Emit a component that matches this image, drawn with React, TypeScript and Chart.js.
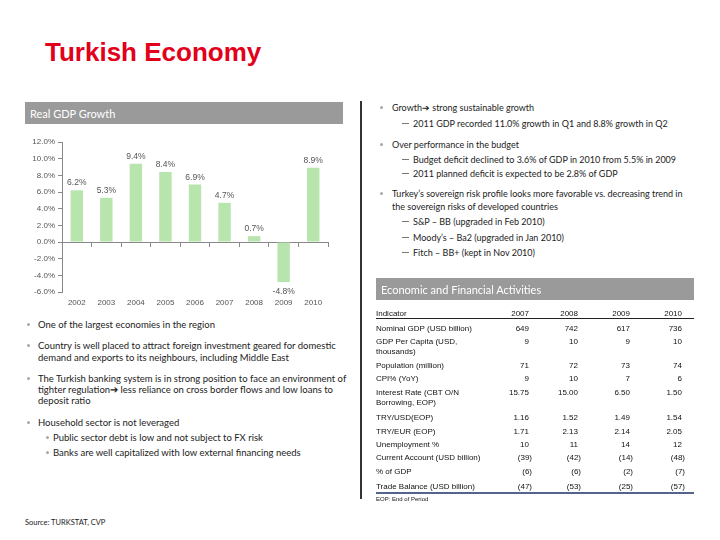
import React, { useEffect, useRef } from "react";
import { Chart, registerables } from "chart.js";
Chart.register(...registerables);

const years = ["2002", "2003", "2004", "2005", "2006", "2007", "2008", "2009", "2010"];
const growth = [6.2, 5.3, 9.4, 8.4, 6.9, 4.7, 0.7, -4.8, 8.9];
const yMin = -6;
const yMax = 12;
const yStep = 2;

const tableYears = ["2007", "2008", "2009", "2010"];
const indicators: string[][] = [
  ["Nominal GDP (USD billion)"],
  ["GDP Per Capita (USD,", "thousands)"],
  ["Population (million)"],
  ["CPI% (YoY)"],
  ["Interest Rate (CBT O/N", "Borrowing, EOP)"],
  ["TRY/USD(EOP)"],
  ["TRY/EUR (EOP)"],
  ["Unemployment %"],
  ["Current Account (USD billion)"],
  ["% of GDP"],
  ["Trade Balance (USD billion)"],
];
const v2007 = ["649", "9", "71", "9", "15.75", "1.16", "1.71", "10", "(39)", "(6)", "(47)"];
const v2008 = ["742", "10", "72", "10", "15.00", "1.52", "2.13", "11", "(42)", "(6)", "(53)"];
const v2009 = ["617", "9", "73", "7", "6.50", "1.49", "2.14", "14", "(14)", "(2)", "(25)"];
const v2010 = ["736", "10", "74", "6", "1.50", "1.54", "2.05", "12", "(48)", "(7)", "(57)"];

const FONT = "Lato, 'Open Sans', sans-serif";
const ARIAL = "'Liberation Sans', Arial, sans-serif";

type TP = {
  x: number;
  y: number;
  s?: number;
  c?: string;
  f?: string;
  w?: number;
  right?: boolean;
  children: React.ReactNode;
};
const T = ({ x, y, s = 9, c = "#222", f = FONT, w = 400, right = false, children }: TP) => {
  const lh = Math.round(s * 1.4);
  const style: React.CSSProperties = {
    position: "absolute",
    top: y - lh / 2,
    fontSize: s,
    lineHeight: `${lh}px`,
    color: c,
    fontFamily: f,
    fontWeight: w,
    whiteSpace: "nowrap",
  };
  if (right) {
    style.left = x - 200;
    style.width = 200;
    style.textAlign = "right";
  } else {
    style.left = x;
  }
  return <div style={style}>{children}</div>;
};

const Bullet = ({ x, y }: { x: number; y: number }) => (
  <div
    style={{
      position: "absolute",
      left: x - 1.5,
      top: y - 1.5,
      width: 3,
      height: 3,
      borderRadius: "50%",
      background: "#a8a8a8",
    }}
  />
);
const Dash = ({ x, y }: { x: number; y: number }) => (
  <div style={{ position: "absolute", left: x, top: y, width: 7, height: 1, background: "#777" }} />
);

function GrowthChart() {
  const ref = useRef<HTMLCanvasElement | null>(null);
  useEffect(() => {
    if (!ref.current) return;
    const labelPlugin = {
      id: "barLabels",
      afterDatasetsDraw(chart: any) {
        const ctx = chart.ctx;
        const meta = chart.getDatasetMeta(0);
        ctx.save();
        ctx.font = `8.5px ${ARIAL}`;
        ctx.fillStyle = "#555";
        ctx.textAlign = "center";
        meta.data.forEach((bar: any, i: number) => {
          const v = growth[i];
          const txt = v.toFixed(1) + "%";
          if (v >= 0) {
            ctx.textBaseline = "bottom";
            ctx.fillText(txt, bar.x, bar.y - 3);
          } else {
            ctx.textBaseline = "top";
            ctx.fillText(txt, bar.x, bar.y + 5);
          }
        });
        ctx.restore();
      },
    };
    const chart = new Chart(ref.current, {
      type: "bar",
      data: {
        labels: years,
        datasets: [
          {
            data: growth,
            backgroundColor: "#b8e4ae",
            borderWidth: 0,
            xAxisID: "x",
            yAxisID: "y",
            categoryPercentage: 1,
            barPercentage: 0.42,
          },
        ],
      },
      options: {
        animation: false,
        responsive: false,
        devicePixelRatio: 1,
        layout: { padding: { top: 10, right: 7, left: 0, bottom: 0 } },
        plugins: { legend: { display: false }, tooltip: { enabled: false } },
        scales: {
          y: {
            min: yMin,
            max: yMax,
            position: "left",
            ticks: {
              stepSize: yStep,
              padding: 3,
              color: "#555",
              font: { family: ARIAL, size: 8 },
              callback: (v: any) => Number(v).toFixed(1) + "%",
            },
            grid: { drawOnChartArea: false, drawTicks: true, tickLength: 4, color: "#888" },
            border: { display: true, color: "#888" },
            afterFit: (s: any) => {
              s.width = 42;
            },
          },
          x: {
            type: "category",
            position: { y: 0 } as any,
            offset: true,
            ticks: { display: false },
            grid: { offset: true, drawOnChartArea: false, drawTicks: true, tickLength: 4, color: "#888" },
            border: { display: true, color: "#888" },
          },
          x2: {
            type: "category",
            labels: years,
            position: "bottom",
            offset: true,
            grid: { display: false, drawTicks: false },
            border: { display: false },
            ticks: { padding: 6, color: "#555", font: { family: ARIAL, size: 8 }, maxRotation: 0 },
            afterFit: (s: any) => {
              s.height = 14;
            },
          },
        },
      } as any,
      plugins: [labelPlugin],
    });
    return () => chart.destroy();
  }, []);
  return (
    <canvas
      ref={ref}
      width={315}
      height={174}
      style={{ position: "absolute", left: 20, top: 132, width: 315, height: 174 }}
    />
  );
}

const colRight = [529, 578, 630, 682];
const rowY = [328, 341, 365, 378, 392, 417, 431, 444, 457, 471, 486];
const colVals = [v2007, v2008, v2009, v2010];

export default function App() {
  const L = 9.5;
  return (
    <div
      style={{
        position: "fixed",
        left: 0,
        top: 0,
        width: 720,
        height: 540,
        background: "#fff",
        overflow: "hidden",
      }}
    >
      <T x={45} y={52} s={26} c="#e2001a" f={ARIAL} w={700}>
        Turkish Economy
      </T>

      {/* Real GDP Growth header */}
      <div style={{ position: "absolute", left: 25, top: 102, width: 318, height: 22, background: "#9a9a9a" }} />
      <T x={30} y={113} s={11} c="#fff">
        Real GDP Growth
      </T>

      <GrowthChart />

      {/* divider */}
      <div style={{ position: "absolute", left: 360, top: 101, width: 1.5, height: 398, background: "#333" }} />

      {/* right top bullets */}
      <Bullet x={381} y={107} />
      <T x={392} y={107}>Growth➔ strong sustainable growth</T>
      <Dash x={402} y={123} />
      <T x={413} y={123}>2011 GDP recorded 11.0% growth in Q1 and 8.8% growth in Q2</T>
      <Bullet x={381} y={144} />
      <T x={392} y={144}>Over performance in the budget</T>
      <Dash x={402} y={159} />
      <T x={413} y={159}>Budget deficit declined to 3.6% of GDP in 2010 from 5.5% in 2009</T>
      <Dash x={402} y={173} />
      <T x={413} y={173}>2011 planned deficit is expected to be 2.8% of GDP</T>
      <Bullet x={381} y={193} />
      <T x={392} y={193}>Turkey’s sovereign risk profile looks more favorable vs. decreasing trend in</T>
      <T x={392} y={206}>the sovereign risks of developed countries</T>
      <Dash x={402} y={221} />
      <T x={413} y={221}>S&amp;P – BB (upgraded in Feb 2010)</T>
      <Dash x={402} y={237} />
      <T x={413} y={237}>Moody’s – Ba2 (upgraded in Jan 2010)</T>
      <Dash x={402} y={252} />
      <T x={413} y={252}>Fitch – BB+ (kept in Nov 2010)</T>

      {/* left bullets */}
      <Bullet x={28} y={324} />
      <T x={38} y={324} s={L}>One of the largest economies in the region</T>
      <Bullet x={28} y={345} />
      <T x={38} y={345} s={L}>Country is well placed to attract foreign investment geared for domestic</T>
      <T x={38} y={357} s={L}>demand and exports to its neighbours, including Middle East</T>
      <Bullet x={28} y={378} />
      <T x={38} y={378} s={L}>The Turkish banking system is in strong position to face an environment of</T>
      <T x={38} y={389} s={L}>tighter regulation➔ less reliance on cross border flows and low loans to</T>
      <T x={38} y={400} s={L}>deposit ratio</T>
      <Bullet x={28} y={422} />
      <T x={38} y={422} s={L}>Household sector is not leveraged</T>
      <Bullet x={47} y={437} />
      <T x={53} y={437} s={L}>Public sector debt is low and not subject to FX risk</T>
      <Bullet x={47} y={452} />
      <T x={53} y={452} s={L}>Banks are well capitalized with low external financing needs</T>

      <T x={25} y={522} s={7.5}>
        Source: TURKSTAT, CVP
      </T>

      {/* table header */}
      <div style={{ position: "absolute", left: 376, top: 278, width: 318, height: 22, background: "#9a9a9a" }} />
      <T x={381} y={289} s={11} c="#fff">
        Economic and Financial Activities
      </T>

      <T x={376} y={313} s={8} f={ARIAL} c="#111">
        Indicator
      </T>
      {tableYears.map((yr, j) => (
        <T key={yr} x={colRight[j]} y={313} s={8} f={ARIAL} c="#111" right>
          {yr}
        </T>
      ))}
      <div style={{ position: "absolute", left: 376, top: 318, width: 318, height: 1, background: "#222" }} />

      {indicators.map((lines, i) => (
        <React.Fragment key={i}>
          {lines.map((ln, k) => (
            <T key={k} x={376} y={rowY[i] + k * 10.5} s={8} f={ARIAL} c="#111">
              {ln}
            </T>
          ))}
          {colVals.map((col, j) => (
            <T
              key={"v" + j}
              x={colRight[j] + (col[i].startsWith("(") ? 3 : 0)}
              y={rowY[i]}
              s={8}
              f={ARIAL}
              c="#111"
              right
            >
              {col[i]}
            </T>
          ))}
        </React.Fragment>
      ))}
      <div style={{ position: "absolute", left: 376, top: 492, width: 318, height: 1.5, background: "#55648a" }} />
      <T x={376} y={499} s={6} f={ARIAL} c="#111">
        EOP: End of Period
      </T>
    </div>
  );
}
